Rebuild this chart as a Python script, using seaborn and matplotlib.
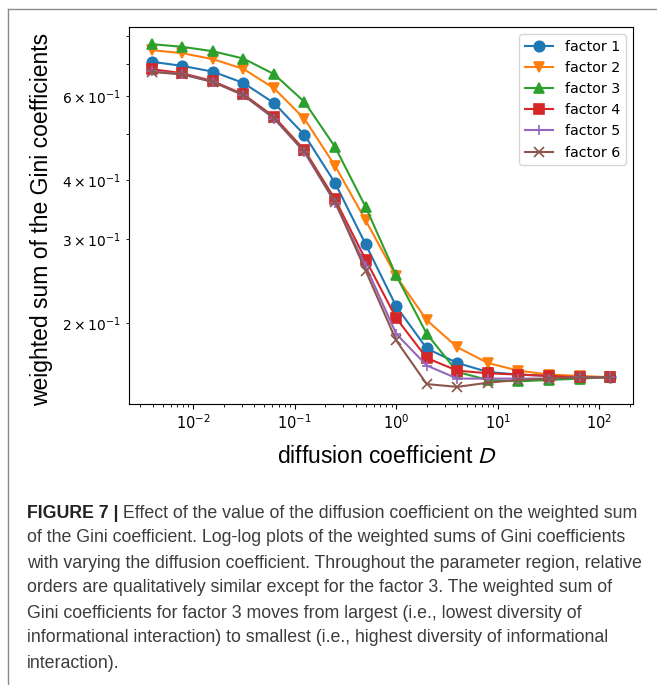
import numpy as np
import pandas as pd
import seaborn as sns
import matplotlib
matplotlib.use("Agg")
import matplotlib.pyplot as plt
from matplotlib.lines import Line2D
from matplotlib import font_manager

# data
diffusion = [0.00390625, 0.0078125, 0.015625, 0.03125, 0.0625, 0.125, 0.25, 0.5,
             1, 2, 4, 8, 16, 32, 64, 128]
factor1 = [0.708, 0.694, 0.675, 0.639, 0.580, 0.497, 0.394, 0.293, 0.217, 0.177, 0.165, 0.158, 0.156, 0.155, 0.154, 0.154]
factor2 = [0.749, 0.738, 0.717, 0.684, 0.623, 0.537, 0.428, 0.329, 0.251, 0.203, 0.178, 0.165, 0.159, 0.156, 0.155, 0.154]
factor3 = [0.771, 0.761, 0.745, 0.719, 0.667, 0.583, 0.469, 0.351, 0.252, 0.190, 0.158, 0.152, 0.151, 0.152, 0.153, 0.154]
factor4 = [0.683, 0.670, 0.645, 0.605, 0.543, 0.462, 0.364, 0.272, 0.205, 0.169, 0.159, 0.157, 0.156, 0.155, 0.154, 0.154]
factor5 = [0.676, 0.667, 0.643, 0.602, 0.538, 0.457, 0.358, 0.264, 0.190, 0.163, 0.153, 0.153, 0.153, 0.153, 0.154, 0.154]
factor6 = [0.674, 0.666, 0.642, 0.603, 0.540, 0.459, 0.360, 0.258, 0.184, 0.149, 0.147, 0.150, 0.152, 0.153, 0.154, 0.154]
labels = ["factor 1", "factor 2", "factor 3", "factor 4", "factor 5", "factor 6"]
markers = ["o", "v", "^", "s", "+", "x"]

caption_head = "FIGURE 7 |"
caption_lines = [
    " Effect of the value of the diffusion coefficient on the weighted sum",
    "of the Gini coefficient. Log-log plots of the weighted sums of Gini coefficients",
    "with varying the diffusion coefficient. Throughout the parameter region, relative",
    "orders are qualitatively similar except for the factor 3. The weighted sum of",
    "Gini coefficients for factor 3 moves from largest (i.e., lowest diversity of",
    "informational interaction) to smallest (i.e., highest diversity of informational",
    "interaction).",
]

df = pd.DataFrame({
    "D": diffusion * 6,
    "gini": factor1 + factor2 + factor3 + factor4 + factor5 + factor6,
    "factor": np.repeat(labels, len(diffusion)),
})

fig = plt.figure(figsize=(6.57, 6.85), dpi=100)
ax = fig.add_axes([0.196, 0.4102, 0.7675, 0.5504])

colors = sns.color_palette("tab10", 6)
# seaborn refuses to mix filled and line markers in one call, so one call per factor
for lab, mk, col in zip(labels, markers, colors):
    sub = df[df["factor"] == lab]
    sns.lineplot(data=sub, x="D", y="gini", color=col, marker=mk, markersize=7.5,
                 markeredgecolor=col, markeredgewidth=1.2, linewidth=1.5,
                 label=lab, ax=ax)
ax.set_xscale("log")
ax.set_yscale("log")

ax.legend(loc="upper right", fontsize=10.3)
ax.tick_params(labelsize=10.5)

ax.set_ylabel("weighted sum of the Gini coefficients", fontsize=16.5,
              family="Liberation Sans")
ax.yaxis.set_label_coords(-0.150, 0.49)
ax.set_xlabel("diffusion coefficient $D$", fontsize=16.5, family="Liberation Sans",
              math_fontfamily="stixsans")
ax.xaxis.set_label_coords(0.512, -0.108)

# figure frame (top and left rules)
fig.add_artist(Line2D([8 / 657, 1], [1 - 9 / 685] * 2, transform=fig.transFigure,
                      color="#8a8a8a", lw=1))
fig.add_artist(Line2D([8 / 657] * 2, [0, 1 - 9 / 685], transform=fig.transFigure,
                      color="#8a8a8a", lw=1))

# caption
names = {f.name for f in font_manager.fontManager.ttflist}
cap_family = "Liberation Sans Narrow" if "Liberation Sans Narrow" in names else "Liberation Sans"
cap_size = 15.5 if cap_family == "Liberation Sans Narrow" else 12.8
cap_color = "#3c3c3c"
x0 = 27 / 657
y_first = 513
step = 25
renderer = fig.canvas.get_renderer()
head = fig.text(x0, 1 - y_first / 685, caption_head, fontsize=cap_size, family=cap_family,
                weight="bold", color="#222222", va="center")
bb = head.get_window_extent(renderer)
fig.text(bb.x1 / fig.bbox.width, 1 - y_first / 685, caption_lines[0], fontsize=cap_size,
         family=cap_family, color=cap_color, va="center")
for i, txt in enumerate(caption_lines[1:], start=1):
    fig.text(x0, 1 - (y_first + i * step) / 685, txt, fontsize=cap_size,
             family=cap_family, color=cap_color, va="center")

fig.savefig("out.png", dpi=100)
